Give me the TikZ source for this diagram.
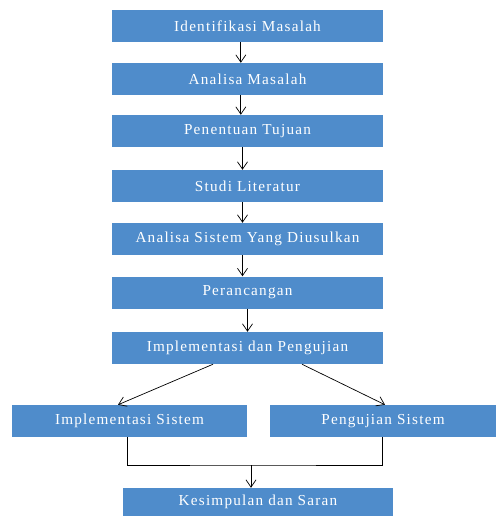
\documentclass[tikz,border=0pt]{standalone}
\usepackage{fontspec}
\setmainfont{Liberation Serif}[LetterSpace=8]
\usetikzlibrary{arrows.meta}

\definecolor{boxblue}{RGB}{79,140,203}

\begin{document}
\begin{tikzpicture}

\tikzset{stage/.style = {rectangle, fill=boxblue, text=white, minimum width=8.13cm, minimum height=0.96cm, inner sep=0pt, font=\fontsize{13}{15}\selectfont}}
\tikzset{flow/.style = {-{Straight Barb[length=2.2mm,width=3mm]}, line width=0.6pt}}
\useasboundingbox (0,0) rectangle (14.88,-15.48);
% stages
\node[stage] (1) at (7.425,-0.78) {Identifikasi Masalah};
\node[stage] (2) at (7.425,-2.37) {Analisa Masalah};
\node[stage] (3) at (7.425,-3.93) {Penentuan Tujuan};
\node[stage] (4) at (7.425,-5.58) {Studi Literatur};
\node[stage] (5) at (7.425,-7.17) {Analisa Sistem Yang Diusulkan};
\node[stage] (6) at (7.425,-8.775) {Perancangan};
\node[stage] (7) at (7.425,-10.44) {Implementasi dan Pengujian};
\node[stage, minimum width=7.05cm] (8) at (3.885,-12.63) {Implementasi Sistem};
\node[stage, minimum width=6.78cm] (9) at (11.49,-12.63) {Pengujian Sistem};
\node[stage, minimum width=8.1cm, minimum height=0.84cm] (10) at (7.74,-15.06) {Kesimpulan dan Saran};
\coordinate (merge) at (7.53,-13.95);

%edges
\draw [flow] ([xshift=-0.2cm]1.south) -- ([xshift=-0.2cm]2.north);
\draw [flow] ([xshift=-0.2cm]2.south) -- ([xshift=-0.2cm]3.north);
\draw [flow] ([xshift=-0.15cm]3.south) -- ([xshift=-0.15cm]4.north);
\draw [flow] ([xshift=-0.15cm]4.south) -- ([xshift=-0.15cm]5.north);
\draw [flow] ([xshift=-0.15cm]5.south) -- ([xshift=-0.15cm]6.north);
\draw [flow] (6.south) -- (7.north);
\draw [flow] ([xshift=-1.035cm]7.south) -- ([xshift=-0.345cm]8.north);
\draw [flow] ([xshift=1.635cm]7.south) -- ([xshift=0.06cm]9.north);
\draw [line width=0.6pt] ([xshift=-0.075cm]8.south) |- (merge) -| ([xshift=-0.03cm]9.south);
\draw [flow] (merge) -- (10.north -| merge);

\end{tikzpicture}
\end{document}
